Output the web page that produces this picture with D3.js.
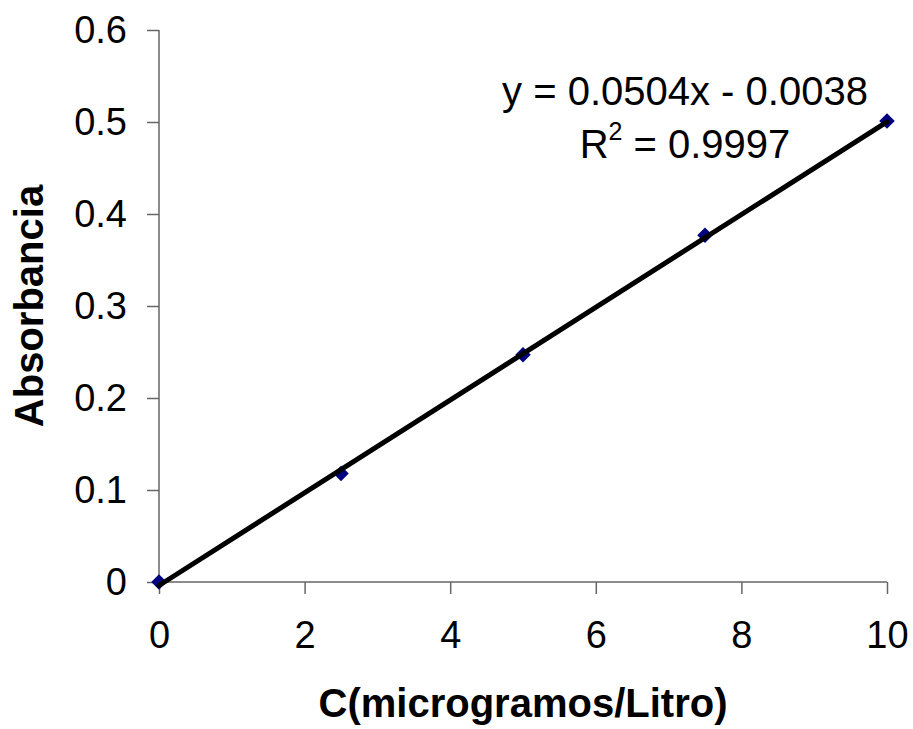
<!DOCTYPE html>
<html>
<head>
<meta charset="utf-8">
<script src="https://cdn.jsdelivr.net/npm/d3@7"></script>
<style>
  body { margin: 0; background: #fff; }
  text { font-family: Arial, "Liberation Sans", sans-serif; }
</style>
</head>
<body>
<div id="chart"></div>
<script>
// Calibration data
var concentration = [0, 2.5, 5, 7.5, 10];
var absorbance = [0.000, 0.118, 0.247, 0.377, 0.501];
var xTicks = [0, 2, 4, 6, 8, 10];
var yTicks = [0, 0.1, 0.2, 0.3, 0.4, 0.5, 0.6];
var slope = 0.0504;
var intercept = -0.0038;
var eqLabel = "y = 0.0504x - 0.0038";
var r2Value = "0.9997";

var w = 913;
var h = 729;

var svg = d3.select('#chart').append('svg')
  .attr('width', w)
  .attr('height', h);

var x = d3.scaleLinear().domain([0, 10]).range([159, 887]);
var y = d3.scaleLinear().domain([0, 0.6]).range([582, 30]);

var axisColor = '#666';

// y axis
var yAxis = svg.append('g')
  .attr('transform', 'translate(' + x(0) + ',0)')
  .call(d3.axisLeft(y).tickValues(yTicks).tickSize(12).tickPadding(20)
    .tickFormat(function(d) { return d === 0 ? '0' : d3.format('.1f')(d); }));

// x axis
var xAxis = svg.append('g')
  .attr('transform', 'translate(0,' + y(0) + ')')
  .call(d3.axisBottom(x).tickValues(xTicks).tickSize(12).tickPadding(27)
    .tickFormat(d3.format('d')));

[yAxis, xAxis].forEach(function(a) {
  a.select('.domain').attr('stroke', axisColor).attr('stroke-width', 1.5);
  a.selectAll('.tick line').attr('stroke', axisColor).attr('stroke-width', 1.5);
  a.selectAll('.tick text')
    .attr('fill', '#000')
    .style('font-size', '38px')
    .style('font-family', 'Arial, "Liberation Sans", sans-serif');
});
// axis domains without outer ticks
yAxis.select('.domain').attr('d', 'M0,' + y(0.6) + 'V' + y(0));
xAxis.select('.domain').attr('d', 'M' + x(0) + ',0H' + x(10));

// markers (drawn under the trendline)
var points = concentration.map(function(c, i) { return { c: c, a: absorbance[i] }; });
svg.append('g')
  .selectAll('path')
  .data(points)
  .enter().append('path')
  .attr('d', d3.symbol(d3.symbolSquare, 120))
  .attr('transform', function(d) { return 'translate(' + x(d.c) + ',' + y(d.a) + ') rotate(45)'; })
  .attr('fill', '#000080');

// linear trendline
svg.append('line')
  .attr('x1', x(0)).attr('y1', y(slope * 0 + intercept))
  .attr('x2', x(10)).attr('y2', y(slope * 10 + intercept))
  .attr('stroke', '#000')
  .attr('stroke-width', 5)
  .attr('stroke-linecap', 'round');

// equation labels
svg.append('text')
  .attr('x', 685).attr('y', 105)
  .attr('text-anchor', 'middle')
  .style('font-size', '40px')
  .text(eqLabel);

var r2 = svg.append('text')
  .attr('x', 685).attr('y', 158)
  .attr('text-anchor', 'middle')
  .style('font-size', '40px');
r2.append('tspan').text('R');
r2.append('tspan').attr('dy', -18).style('font-size', '25px').text('2');
r2.append('tspan').attr('dy', 18).text(' = ' + r2Value);

// axis titles
svg.append('text')
  .attr('x', (x(0) + x(10)) / 2).attr('y', 717)
  .attr('text-anchor', 'middle')
  .style('font-size', '40px')
  .style('font-weight', 'bold')
  .text('C(microgramos/Litro)');

svg.append('text')
  .attr('transform', 'translate(43,' + (y(0) + y(0.6)) / 2 + ') rotate(-90)')
  .attr('text-anchor', 'middle')
  .style('font-size', '40px')
  .style('font-weight', 'bold')
  .text('Absorbancia');
</script>
</body>
</html>
